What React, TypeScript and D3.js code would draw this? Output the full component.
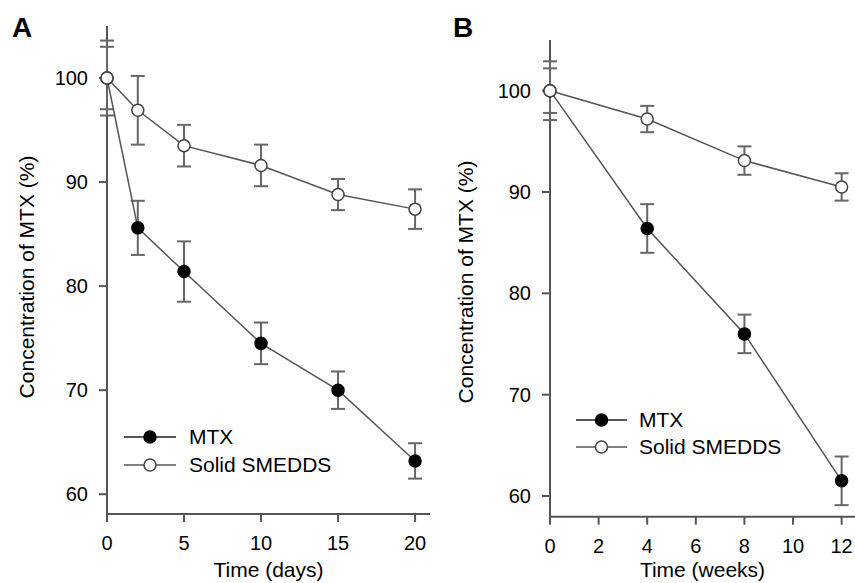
import React from 'react'
import { scaleLinear, line } from 'd3'

// panel A: storage time in days
const daysX = [0, 2, 5, 10, 15, 20]
const daysMTX = [100, 85.6, 81.4, 74.5, 70.0, 63.2]
const daysMTXErr = [3.6, 2.6, 2.9, 2.0, 1.8, 1.7]
const daysSMEDDS = [100, 96.9, 93.5, 91.6, 88.8, 87.4]
const daysSMEDDSErr = [3.0, 3.3, 2.0, 2.0, 1.5, 1.9]
const daysTicks = [0, 5, 10, 15, 20]

// panel B: storage time in weeks
const weeksX = [0, 4, 8, 12]
const weeksMTX = [100, 86.4, 76.0, 61.5]
const weeksMTXErr = [2.9, 2.4, 1.9, 2.4]
const weeksSMEDDS = [100, 97.2, 93.1, 90.5]
const weeksSMEDDSErr = [2.2, 1.3, 1.4, 1.35]
const weeksTicks = [0, 2, 4, 6, 8, 10, 12]

const yTicks = [60, 70, 80, 90, 100]
const seriesNames = ['MTX', 'Solid SMEDDS']

const FONT = 'Liberation Sans, Arial, sans-serif'
const AXIS = '#555'
const LINE = '#555'
const ERR = '#666'

type Series = { x: number[]; y: number[]; err: number[]; filled: boolean }

const Panel = ({ letter, letterPos, xDomain, xRange, yDomain, yRange, xTicks, xLabel, series, legend, yLabelPos }: any) => {
    const x = scaleLinear().domain(xDomain).range(xRange)
    const y = scaleLinear().domain(yDomain).range(yRange)
    const x0 = xRange[0]
    const yBottom = yRange[0]
    const path = line<[number, number]>().x(d => x(d[0])).y(d => y(d[1]))

    return (
        <g fontFamily={FONT}>
            <text x={letterPos[0]} y={letterPos[1]} fontSize={28} fontWeight="bold" fill="#000">{letter}</text>

            {/* axes */}
            <line x1={x0} x2={x0} y1={yRange[1]} y2={yBottom} stroke={AXIS} strokeWidth={2} />
            <line x1={x0} x2={xRange[1]} y1={yBottom} y2={yBottom} stroke={AXIS} strokeWidth={2} />
            {yTicks.map(t => (
                <g key={'y' + t}>
                    <line x1={x0 - 8} x2={x0} y1={y(t)} y2={y(t)} stroke={AXIS} strokeWidth={2} />
                    <text x={x0 - 19} y={y(t) + 7} textAnchor="end" fontSize={20} fill="#000">{t}</text>
                </g>
            ))}
            {xTicks.map((t: number) => (
                <g key={'x' + t}>
                    <line x1={x(t)} x2={x(t)} y1={yBottom} y2={yBottom + 8} stroke={AXIS} strokeWidth={2} />
                    <text x={x(t)} y={yBottom + 36} textAnchor="middle" fontSize={20} fill="#000">{t}</text>
                </g>
            ))}
            <text x={(x0 + xRange[1]) / 2} y={577} textAnchor="middle" fontSize={21} fill="#000">{xLabel}</text>
            <text transform={`translate(${yLabelPos[0]},${yLabelPos[1]}) rotate(-90)`} textAnchor="middle" fontSize={21} fill="#000">
                Concentration of MTX (%)
            </text>

            {/* error bars */}
            {series.map((s: Series, si: number) => s.x.map((v, i) => (
                <g key={`e${si}-${i}`} stroke={ERR} strokeWidth={2}>
                    <line x1={x(v)} x2={x(v)} y1={y(s.y[i] - s.err[i])} y2={y(s.y[i] + s.err[i])} />
                    <line x1={x(v) - 7} x2={x(v) + 7} y1={y(s.y[i] + s.err[i])} y2={y(s.y[i] + s.err[i])} />
                    <line x1={x(v) - 7} x2={x(v) + 7} y1={y(s.y[i] - s.err[i])} y2={y(s.y[i] - s.err[i])} />
                </g>
            )))}

            {/* lines */}
            {series.map((s: Series, si: number) => (
                <path key={'l' + si} d={path(s.x.map((v, i) => [v, s.y[i]]) as [number, number][]) || ''}
                    fill="none" stroke={LINE} strokeWidth={1.5} />
            ))}

            {/* markers, open series on top */}
            {series.map((s: Series, si: number) => s.x.map((v, i) => (
                <circle key={`m${si}-${i}`} cx={x(v)} cy={y(s.y[i])} r={6}
                    fill={s.filled ? '#000' : '#fff'} stroke={s.filled ? '#000' : '#444'} strokeWidth={1.5} />
            )))}

            {/* legend */}
            {seriesNames.map((name, i) => {
                const ly = legend.y[i]
                return (
                    <g key={'lg' + i}>
                        <line x1={legend.x1} x2={legend.x2} y1={ly} y2={ly} stroke={i === 0 ? '#222' : '#555'} strokeWidth={1.5} />
                        <circle cx={(legend.x1 + legend.x2) / 2} cy={ly} r={6}
                            fill={i === 0 ? '#000' : '#fff'} stroke={i === 0 ? '#000' : '#444'} strokeWidth={1.5} />
                        <text x={legend.tx} y={ly + 7} fontSize={21} fill="#000">{name}</text>
                    </g>
                )
            })}
        </g>
    )
}

const App = () => {
    const seriesA: Series[] = [
        { x: daysX, y: daysMTX, err: daysMTXErr, filled: true },
        { x: daysX, y: daysSMEDDS, err: daysSMEDDSErr, filled: false },
    ]
    const seriesB: Series[] = [
        { x: weeksX, y: weeksMTX, err: weeksMTXErr, filled: true },
        { x: weeksX, y: weeksSMEDDS, err: weeksSMEDDSErr, filled: false },
    ]

    return (
        <div style={{ position: 'absolute', left: 0, top: 0 }}>
            <svg width={855} height={583} style={{ display: 'block', background: '#fff' }}>
                <Panel letter="A" letterPos={[12, 37]}
                    xDomain={[0, 20.97]} xRange={[107, 430]}
                    yDomain={[58.1, 105]} yRange={[514, 26]}
                    xTicks={daysTicks} xLabel="Time (days)" series={seriesA}
                    legend={{ x1: 124, x2: 176, tx: 189, y: [437, 465] }}
                    yLabelPos={[34, 277]} />
                <Panel letter="B" letterPos={[453, 37]}
                    xDomain={[0, 12.55]} xRange={[550, 855]}
                    yDomain={[57.96, 105]} yRange={[516.7, 40]}
                    xTicks={weeksTicks} xLabel="Time (weeks)" series={seriesB}
                    legend={{ x1: 576, x2: 627, tx: 639, y: [420, 447] }}
                    yLabelPos={[473, 282]} />
            </svg>
        </div>
    )
}

export default App
